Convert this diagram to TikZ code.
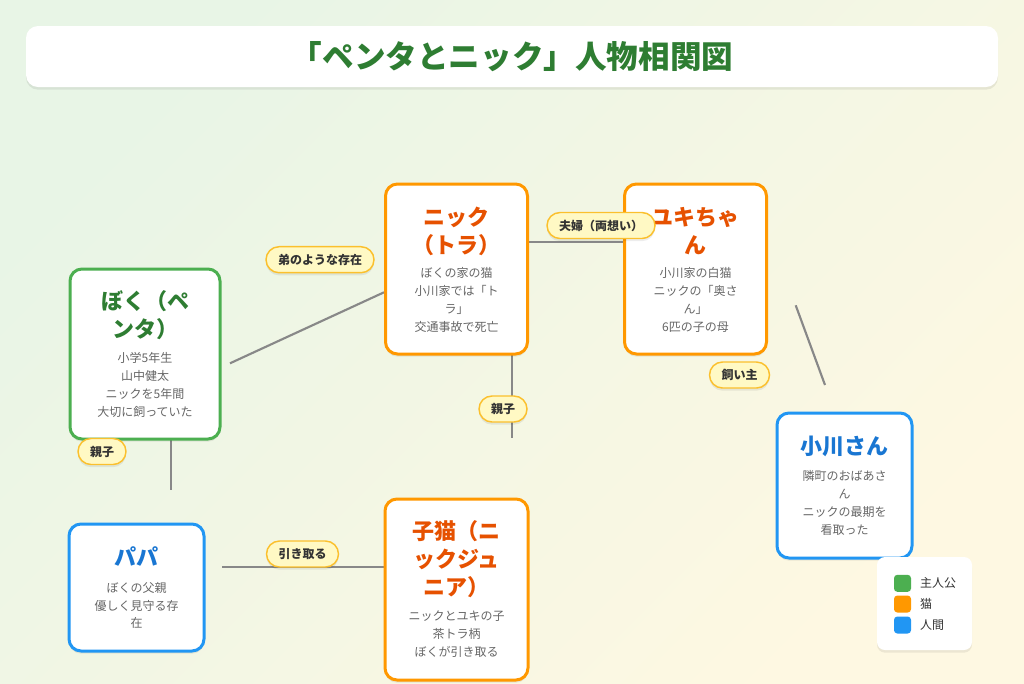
\documentclass[tikz,border=0pt]{standalone}
\usepackage{fontspec}
\setmainfont{Noto Sans CJK JP}
\usetikzlibrary{positioning,shadows}
\definecolor{bgleft}{HTML}{E8F5E6}
\definecolor{bgright}{HTML}{FEF8E2}
\definecolor{heroline}{HTML}{4CAF50}
\definecolor{herotext}{HTML}{2E7D32}
\definecolor{catline}{HTML}{FF9800}
\definecolor{cattext}{HTML}{E65100}
\definecolor{humanline}{HTML}{2196F3}
\definecolor{humantext}{HTML}{1976D2}
\definecolor{infogray}{HTML}{666666}
\definecolor{tiegray}{HTML}{888888}
\definecolor{tagfill}{HTML}{FFF9C4}
\definecolor{tagedge}{HTML}{FBC02D}
\definecolor{tagtext}{HTML}{333333}
\begin{document}
\begin{tikzpicture}[x=0.75pt,y=-0.75pt,
  softshadow/.style={drop shadow={shadow xshift=0pt,shadow yshift=-2pt,opacity=0.07,fill=black}},
  person/.style={draw=#1,line width=2.25pt,fill=white,rounded corners=9pt,inner sep=0pt,softshadow},
  pname/.style={text=#1,align=center,inner sep=0pt,font=\fontsize{16.5}{21}\selectfont\bfseries},
  pinfo/.style={text=infogray,align=center,inner sep=0pt,font=\fontsize{9}{13.4}\selectfont},
  tie/.style={draw=tiegray,line width=1.6pt},
  tietag/.style={draw=tagedge,fill=tagfill,line width=1.1pt,rounded corners=9.75pt,minimum height=19.5pt,
    inner xsep=9pt,inner ysep=0pt,text=tagtext,font=\fontsize{9}{11}\selectfont\bfseries,softshadow},
  swatch/.style={fill=#1,minimum size=12.75pt,inner sep=0pt,rounded corners=2.5pt},
  legtext/.style={inner sep=0pt,text=tagtext,font=\fontsize{9}{11}\selectfont}]
\useasboundingbox (0,0) rectangle (1024,683);
\shade[left color=bgleft,right color=bgright,shading angle=45] (0,0) rectangle (1024,683);

% title
\node[fill=white,rounded corners=9pt,minimum width=729pt,minimum height=45.75pt,softshadow,
  text=herotext,font=\fontsize{23.7}{28}\selectfont\bfseries] (head) at (512,56.5) {「ペンタとニック」人物相関図};

% connector ends
\coordinate (bokuR) at (230,363.3);
\coordinate (nickL) at (384,292.3);
\coordinate (nickR) at (529,242.3);
\coordinate (yukiL) at (624,242.3);
\coordinate (nickB) at (512,354);
\coordinate (kittenT) at (512,438);
\coordinate (yukiB) at (795.7,305.3);
\coordinate (ogawaT) at (825,385);
\coordinate (bokuB) at (170.7,439);
\coordinate (papaT) at (170.7,490);
\coordinate (papaR) at (222,567.3);
\coordinate (kittenL) at (385,567.3);
\draw[tie] (bokuR) -- (nickL);
\draw[tie] (nickR) -- (yukiL);
\draw[tie] (nickB) -- (kittenT);
\draw[tie] (yukiB) -- (ogawaT);
\draw[tie] (bokuB) -- (papaT);
\draw[tie] (papaR) -- (kittenL);

% people and cats
\node[person=heroline,minimum width=112.5pt,minimum height=127.5pt] (boku) at (145,354) {};
\node[pname=herotext] (bokuname) at (145,315) {ぼく（ペ\\ンタ）};
\node[pinfo] (bokuinfo) at (145,385) {小学5年生\\山中健太\\ニックを5年間\\大切に飼っていた};

\node[person=catline,minimum width=106.5pt,minimum height=127.5pt] (nick) at (456.5,269) {};
\node[pname=cattext] (nickname) at (456.5,231) {ニック\\（トラ）};
\node[pinfo] (nickinfo) at (456.5,300) {ぼくの家の猫\\小川家では「ト\\ラ」\\交通事故で死亡};

\node[person=catline,minimum width=106.5pt,minimum height=127.5pt] (yuki) at (695.5,269) {};
\node[pname=cattext] (yukiname) at (695.5,231) {ユキちゃ\\ん};
\node[pinfo] (yukiinfo) at (695.5,300) {小川家の白猫\\ニックの「奥さ\\ん」\\6匹の子の母};

\node[person=humanline,minimum width=101.25pt,minimum height=108.75pt] (ogawa) at (844.5,485.5) {};
\node[pname=humantext] (ogawaname) at (844.5,446.7) {小川さん};
\node[pinfo] (ogawainfo) at (844.5,503) {隣町のおばあさ\\ん\\ニックの最期を\\看取った};

\node[person=humanline,minimum width=101.25pt,minimum height=95.25pt] (papa) at (136.5,587.5) {};
\node[pname=humantext] (papaname) at (136.5,556.7) {パパ};
\node[pinfo] (papainfo) at (136.5,605.5) {ぼくの父親\\優しく見守る存\\在};

\node[person=catline,minimum width=107.25pt,minimum height=135.75pt] (kitten) at (456.5,589.5) {};
\node[pname=cattext] (kittenname) at (456.5,559) {子猫（ニ\\ックジュ\\ニア）};
\node[pinfo] (kitteninfo) at (456.5,634) {ニックとユキの子\\茶トラ柄\\ぼくが引き取る};

% tags on the ties
\node[tietag] (brother) at (320,259.7) {弟のような存在};
\node[tietag] (couple) at (601,225.5) {夫婦（両想い）};
\node[tietag] (parentcat) at (503,409) {親子};
\node[tietag] (owner) at (739.5,375) {飼い主};
\node[tietag] (parentboku) at (102,451.5) {親子};
\node[tietag] (takein) at (302.5,554) {引き取る};

% legend
\node[fill=white,rounded corners=6pt,minimum width=71.25pt,minimum height=69.75pt,softshadow] (legend) at (924.5,603.5) {};
\node[swatch=heroline] (sqhero) at (902.5,583.3) {};
\node[swatch=catline] (sqcat) at (902.5,604) {};
\node[swatch=humanline] (sqhuman) at (902.5,625) {};
\node[legtext,right=6.5pt of sqhero] (lghero) {主人公};
\node[legtext,right=6.5pt of sqcat] (lgcat) {猫};
\node[legtext,right=6.5pt of sqhuman] (lghuman) {人間};
\end{tikzpicture}
\end{document}
